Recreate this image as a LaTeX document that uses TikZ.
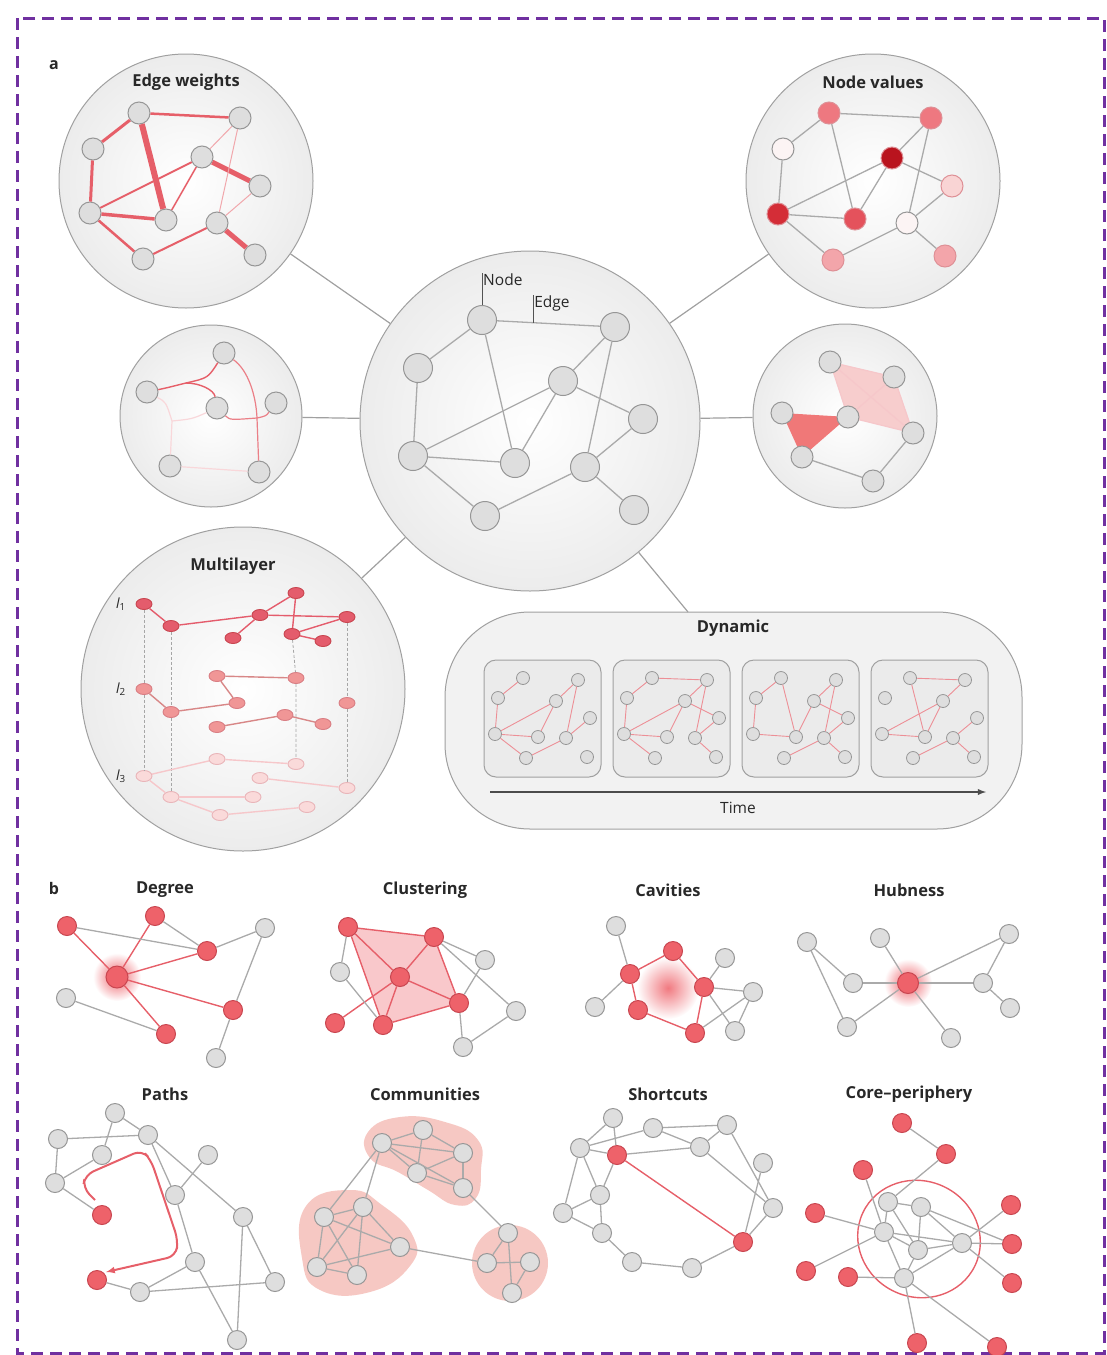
\documentclass[tikz,border=0pt]{standalone}
\usepackage{fontspec}
\setmainfont{Open Sans}
\usetikzlibrary{positioning,shapes.geometric}
\pgfdeclarelayer{discs}
\pgfdeclarelayer{fills}
\pgfsetlayers{discs,fills,main}
\definecolor{framepurple}{RGB}{112,48,160}
\definecolor{discfill}{RGB}{236,236,236}
\definecolor{discedge}{RGB}{160,160,160}
\definecolor{nodefill}{RGB}{222,222,222}
\definecolor{nodeedge}{RGB}{150,150,150}
\definecolor{greyline}{RGB}{170,170,170}
\definecolor{redfill}{RGB}{238,98,106}
\definecolor{rededge}{RGB}{200,70,80}
\definecolor{redline}{RGB}{230,95,105}
\definecolor{textgrey}{RGB}{40,40,40}
\definecolor{valA}{RGB}{252,244,244}
\definecolor{valB}{RGB}{249,212,212}
\definecolor{valC}{RGB}{243,165,170}
\definecolor{valD}{RGB}{238,120,128}
\definecolor{valE}{RGB}{228,82,92}
\definecolor{valF}{RGB}{212,45,55}
\definecolor{valG}{RGB}{185,20,30}
\definecolor{layerone}{RGB}{228,92,108}
\definecolor{layertwo}{RGB}{240,150,150}
\definecolor{layerthree}{RGB}{250,218,218}
\definecolor{blobpink}{RGB}{246,200,195}
\definecolor{simplexpink}{RGB}{247,205,205}
\definecolor{simplexred}{RGB}{240,120,120}
\tikzset{disc/.style={circle, draw=discedge, line width=1pt, inner color=white, outer color=discfill, inner sep=0pt}}
\tikzset{cnode/.style={circle, draw=nodeedge, fill=nodefill, line width=1pt, inner sep=0pt, minimum size=29}}
\tikzset{wnode/.style={cnode, minimum size=22}}
\tikzset{vnode/.style={circle, draw=rededge!60, line width=1pt, inner sep=0pt, minimum size=22}}
\tikzset{bnode/.style={cnode, minimum size=19}}
\tikzset{rnode/.style={bnode, draw=rededge, fill=redfill}}
\tikzset{tnode/.style={cnode, minimum size=13, line width=0.8pt}}
\tikzset{lone/.style={ellipse, draw=rededge, fill=layerone, line width=0.9pt, inner sep=0pt, minimum width=16, minimum height=11}}
\tikzset{ltwo/.style={lone, draw=rededge!70, fill=layertwo}}
\tikzset{lthree/.style={lone, draw=rededge!40, fill=layerthree}}
\tikzset{link/.style={line width=1.3pt, color=greyline}}
\tikzset{rlink/.style={line width=1.4pt, color=redline}}
\tikzset{tlink/.style={line width=0.9pt, color=redline!70}}
\tikzset{joinline/.style={line width=1.2pt, color=discedge}}
\tikzset{dropline/.style={dash pattern=on 3pt off 2pt, line width=0.8pt, color=black!35}}
\tikzset{leader/.style={line width=0.8pt, color=textgrey!80}}
\tikzset{glow/.style={circle, inner color=redfill, outer color=white, inner sep=0pt}}
\tikzset{title/.style={font=\bfseries\fontsize{16.5}{19}\selectfont, text=textgrey}}
\tikzset{plain/.style={font=\fontsize{15.5}{18}\selectfont, text=textgrey}}
\tikzset{panel/.style={font=\bfseries\fontsize{16}{19}\selectfont, text=textgrey}}
\begin{document}
\begin{tikzpicture}[x=1pt, y=-1pt]
    \useasboundingbox (0,0) rectangle (1106,1355);
    \draw[framepurple, line width=3pt, dash pattern=on 12pt off 7pt] (17,18) rectangle (1104,1353);

    % part a: discs
    \begin{pgfonlayer}{discs}
        \node[disc, minimum size=340] (ctrdisc) at (530,421) {};
        \node[disc, minimum size=254] (ewdisc) at (186,181) {};
        \node[disc, minimum size=254] (nvdisc) at (873,181) {};
        \node[disc, minimum size=182] (hydisc) at (211,416) {};
        \node[disc, minimum size=184] (sxdisc) at (845,416) {};
        \node[disc, minimum size=324] (mldisc) at (243,689) {};
        \node[draw=discedge, line width=1pt, fill=black!5, rounded corners=85pt, minimum width=577, minimum height=217] (dynbox) at (733.5,720.5) {};
        \coordinate (dynjoin) at (688,612);
        \draw [joinline] (ctrdisc) -- (ewdisc);
        \draw [joinline] (ctrdisc) -- (nvdisc);
        \draw [joinline] (ctrdisc) -- (hydisc);
        \draw [joinline] (ctrdisc) -- (sxdisc);
        \draw [joinline] (ctrdisc) -- (mldisc);
        \draw [joinline] (ctrdisc) -- (dynjoin);
    \end{pgfonlayer}

    \node[panel] (lbla) at (54,65) {a};
    \node[title] (ewtitle) at (186,82) {Edge weights};
    \node[title] (nvtitle) at (873,82) {Node values};
    \node[title] (mltitle) at (233,566) {Multilayer};
    \node[title] (dyntitle) at (733,628) {Dynamic};

    % central network
    \node[cnode] (c1) at (482,320) {};
    \node[cnode] (c2) at (615,327) {};
    \node[cnode] (c3) at (418,368) {};
    \node[cnode] (c4) at (563,381) {};
    \node[cnode] (c5) at (643,419) {};
    \node[cnode] (c6) at (413,456) {};
    \node[cnode] (c7) at (515,463) {};
    \node[cnode] (c8) at (585,467) {};
    \node[cnode] (c9) at (485,516) {};
    \node[cnode] (c10) at (634,510) {};
    \draw [link] (c1) -- (c2);
    \draw [link] (c1) -- (c3);
    \draw [link] (c1) -- (c7);
    \draw [link] (c3) -- (c6);
    \draw [link] (c6) -- (c7);
    \draw [link] (c6) -- (c4);
    \draw [link] (c6) -- (c9);
    \draw [link] (c4) -- (c7);
    \draw [link] (c4) -- (c2);
    \draw [link] (c4) -- (c5);
    \draw [link] (c2) -- (c8);
    \draw [link] (c5) -- (c8);
    \draw [link] (c8) -- (c9);
    \draw [link] (c8) -- (c10);
    \coordinate (nodetip) at (482,273);
    \draw [leader] (c1) -- (nodetip);
    \node[plain, anchor=north west, inner sep=1pt] (nodelbl) at (nodetip) {Node};
    \path (c1) -- (c2) coordinate[pos=0.35] (edgefoot);
    \draw [leader] (edgefoot) -- ++(0,-28) coordinate (edgetip);
    \node[plain, anchor=north west, inner sep=1pt] (edgelbl) at (edgetip) {Edge};

    % edge weights
    \node[wnode] (ew1) at (139,113) {};
    \node[wnode] (ew2) at (240,118) {};
    \node[wnode] (ew3) at (93,149) {};
    \node[wnode] (ew4) at (202,157) {};
    \node[wnode] (ew5) at (260,186) {};
    \node[wnode] (ew6) at (90,213) {};
    \node[wnode] (ew7) at (166,220) {};
    \node[wnode] (ew8) at (217,223) {};
    \node[wnode] (ew9) at (143,259) {};
    \node[wnode] (ew10) at (255,255) {};
    \draw [rlink, line width=2.5pt] (ew1) -- (ew2);
    \draw [rlink, line width=3pt] (ew1) -- (ew3);
    \draw [rlink, line width=6pt] (ew1) -- (ew7);
    \draw [rlink, line width=3pt] (ew3) -- (ew6);
    \draw [rlink, line width=3.5pt] (ew6) -- (ew7);
    \draw [rlink, line width=1.8pt] (ew6) -- (ew4);
    \draw [rlink, line width=2.5pt] (ew6) -- (ew9);
    \draw [rlink, line width=1.5pt] (ew4) -- (ew7);
    \draw [rlink, line width=1pt, color=redline!55] (ew4) -- (ew2);
    \draw [rlink, line width=5pt] (ew4) -- (ew5);
    \draw [rlink, line width=1pt, color=redline!55] (ew2) -- (ew8);
    \draw [rlink, line width=1pt, color=redline!55] (ew5) -- (ew8);
    \draw [rlink, line width=2pt] (ew8) -- (ew9);
    \draw [rlink, line width=5pt] (ew8) -- (ew10);

    % node values
    \node[vnode, fill=valD] (nv1) at (829,113) {};
    \node[vnode, fill=valD] (nv2) at (931,118) {};
    \node[vnode, fill=valA, draw=nodeedge] (nv3) at (783,149) {};
    \node[vnode, fill=valG] (nv4) at (892,158) {};
    \node[vnode, fill=valB] (nv5) at (952,186) {};
    \node[vnode, fill=valF] (nv6) at (778,214) {};
    \node[vnode, fill=valE] (nv7) at (855,219) {};
    \node[vnode, fill=valA, draw=nodeedge] (nv8) at (907,223) {};
    \node[vnode, fill=valC] (nv9) at (833,260) {};
    \node[vnode, fill=valC] (nv10) at (945,256) {};
    \draw [link] (nv1) -- (nv2);
    \draw [link] (nv1) -- (nv3);
    \draw [link] (nv1) -- (nv7);
    \draw [link] (nv3) -- (nv6);
    \draw [link] (nv6) -- (nv7);
    \draw [link] (nv6) -- (nv4);
    \draw [link] (nv6) -- (nv9);
    \draw [link] (nv4) -- (nv7);
    \draw [link] (nv4) -- (nv2);
    \draw [link] (nv4) -- (nv5);
    \draw [link] (nv2) -- (nv8);
    \draw [link] (nv5) -- (nv8);
    \draw [link] (nv8) -- (nv9);
    \draw [link] (nv8) -- (nv10);

    % hyperedges
    \node[wnode] (hy1) at (224,353) {};
    \node[wnode] (hy2) at (147,392) {};
    \node[wnode] (hy3) at (217,408) {};
    \node[wnode] (hy4) at (276,403) {};
    \node[wnode] (hy5) at (170,466) {};
    \node[wnode] (hy6) at (259,472) {};
    \coordinate (hyj1) at (186,383);
    \coordinate (hyj2) at (172,421);
    \coordinate (hyj3) at (257,418);
    \draw [redline!25, line width=1.2pt] (hy2) .. controls (166,402) .. (hyj2) -- (hy5);
    \draw [redline!25, line width=1.2pt] (hyj2) .. controls (192,419) .. (hy3);
    \draw [redline!25, line width=1.2pt] (hy5) -- (hy6);
    \draw [redline, line width=1.4pt] (hy2) .. controls (166,388) .. (hyj1);
    \draw [redline, line width=1.4pt] (hyj1) .. controls (208,378) .. (hy1);
    \draw [redline, line width=1.4pt] (hyj1) .. controls (200,383) and (214,390) .. (hy3);
    \draw [redline!80, line width=1.2pt] (hy3) .. controls (230,420) .. (hyj3) .. controls (266,416) .. (hy4);
    \draw [redline!80, line width=1.2pt] (hy1) .. controls (248,370) and (256,395) .. (hyj3) -- (hy6);

    % simplices
    \node[wnode] (sx1) at (830,362) {};
    \node[wnode] (sx2) at (894,377) {};
    \node[wnode] (sx3) at (782,413) {};
    \node[wnode] (sx4) at (848,417) {};
    \node[wnode] (sx5) at (913,433) {};
    \node[wnode] (sx6) at (802,457) {};
    \node[wnode] (sx7) at (873,481) {};
    \begin{pgfonlayer}{fills}
        \fill[simplexpink] (sx1.center) -- (sx2.center) -- (sx5.center) -- (sx4.center) -- cycle;
        \fill[simplexred] (sx3.center) -- (sx4.center) -- (sx6.center) -- cycle;
    \end{pgfonlayer}
    \draw [redline!35, line width=1.2pt] (sx1) -- (sx2);
    \draw [redline!35, line width=1.2pt] (sx2) -- (sx5);
    \draw [redline!35, line width=1.2pt] (sx5) -- (sx4);
    \draw [redline!35, line width=1.2pt] (sx4) -- (sx1);
    \draw [redline!35, line width=1.2pt] (sx1) -- (sx5);
    \draw [redline!35, line width=1.2pt] (sx2) -- (sx4);
    \draw [link] (sx6) -- (sx7);
    \draw [link] (sx7) -- (sx5);

    % multilayer
    \node[lone] (la1) at (144,604) {};
    \node[lone] (la2) at (171,626) {};
    \node[lone] (la3) at (260,615) {};
    \node[lone] (la4) at (296,593) {};
    \node[lone] (la5) at (347,617) {};
    \node[lone] (la6) at (233,638) {};
    \node[lone] (la7) at (292,634) {};
    \node[lone] (la8) at (323,641) {};
    \node[ltwo] (lb1) at (144,689) {};
    \node[ltwo] (lb2) at (217,676) {};
    \node[ltwo] (lb3) at (296,678) {};
    \node[ltwo] (lb4) at (237,703) {};
    \node[ltwo] (lb5) at (347,703) {};
    \node[ltwo] (lb6) at (171,712) {};
    \node[ltwo] (lb7) at (285,715) {};
    \node[ltwo] (lb8) at (217,727) {};
    \node[ltwo] (lb9) at (323,724) {};
    \node[lthree] (lc1) at (144,776) {};
    \node[lthree] (lc2) at (217,759) {};
    \node[lthree] (lc3) at (296,764) {};
    \node[lthree] (lc4) at (260,778) {};
    \node[lthree] (lc5) at (347,788) {};
    \node[lthree] (lc6) at (171,797) {};
    \node[lthree] (lc7) at (253,797) {};
    \node[lthree] (lc8) at (220,815) {};
    \node[lthree] (lc9) at (307,807) {};
    \draw [dropline] (la1) -- (lb1) -- (lc1);
    \draw [dropline] (la2) -- (lb6) -- (lc6);
    \draw [dropline] (la7) -- (lb3) -- (lc3);
    \draw [dropline] (la5) -- (lb5) -- (lc5);
    \draw [rlink, color=layerone] (la1) -- (la2);
    \draw [rlink, color=layerone] (la2) -- (la3);
    \draw [rlink, color=layerone] (la3) -- (la5);
    \draw [rlink, color=layerone] (la3) -- (la4);
    \draw [rlink, color=layerone] (la3) -- (la6);
    \draw [rlink, color=layerone] (la4) -- (la7);
    \draw [rlink, color=layerone] (la7) -- (la5);
    \draw [rlink, color=layerone] (la7) -- (la8);
    \draw [rlink, color=layertwo!90!black] (lb2) -- (lb3);
    \draw [rlink, color=layertwo!90!black] (lb2) -- (lb4);
    \draw [rlink, color=layertwo!90!black] (lb1) -- (lb6);
    \draw [rlink, color=layertwo!90!black] (lb6) -- (lb4);
    \draw [rlink, color=layertwo!90!black] (lb8) -- (lb7);
    \draw [rlink, color=layertwo!90!black] (lb7) -- (lb9);
    \draw [rlink, color=redline!35] (lc1) -- (lc2);
    \draw [rlink, color=redline!35] (lc2) -- (lc3);
    \draw [rlink, color=redline!35] (lc4) -- (lc5);
    \draw [rlink, color=redline!35] (lc1) -- (lc6);
    \draw [rlink, color=redline!35] (lc6) -- (lc7);
    \draw [rlink, color=redline!35] (lc6) -- (lc8);
    \draw [rlink, color=redline!35] (lc8) -- (lc9);
    \node[plain, font=\itshape\fontsize{14}{17}\selectfont] (lyr1) at (121,604) {l\textsubscript{\upshape 1}};
    \node[plain, font=\itshape\fontsize{14}{17}\selectfont] (lyr2) at (121,689) {l\textsubscript{\upshape 2}};
    \node[plain, font=\itshape\fontsize{14}{17}\selectfont] (lyr3) at (121,776) {l\textsubscript{\upshape 3}};

    % dynamic
    \node[draw=discedge, fill=black!8, line width=1pt, rounded corners=12pt, minimum size=117] (box1) at (542.5,718.5) {};
    \node[draw=discedge, fill=black!8, line width=1pt, rounded corners=12pt, minimum size=117] (box2) at (671.5,718.5) {};
    \node[draw=discedge, fill=black!8, line width=1pt, rounded corners=12pt, minimum size=117] (box3) at (800.5,718.5) {};
    \node[draw=discedge, fill=black!8, line width=1pt, rounded corners=12pt, minimum size=117] (box4) at (929.5,718.5) {};
    \begin{scope}[shift={(484,660)}]
        \node[tnode] (ta1) at (39,18) {};
        \node[tnode] (ta2) at (94,20) {};
        \node[tnode] (ta3) at (14,38) {};
        \node[tnode] (ta4) at (72,41) {};
        \node[tnode] (ta5) at (106,58) {};
        \node[tnode] (ta6) at (11,74) {};
        \node[tnode] (ta7) at (54,77) {};
        \node[tnode] (ta8) at (82,78) {};
        \node[tnode] (ta9) at (42,98) {};
        \node[tnode] (ta10) at (103,97) {};
    \end{scope}
    \draw [tlink] (ta1) -- (ta3);
    \draw [tlink] (ta3) -- (ta6);
    \draw [tlink] (ta6) -- (ta4);
    \draw [tlink] (ta6) -- (ta7);
    \draw [tlink] (ta6) -- (ta9);
    \draw [tlink] (ta7) -- (ta4);
    \draw [tlink] (ta4) -- (ta2);
    \draw [tlink] (ta2) -- (ta8);
    \draw [tlink] (ta5) -- (ta8);
    \draw [tlink] (ta8) -- (ta9);
    \begin{scope}[shift={(613,660)}]
        \node[tnode] (tb1) at (39,18) {};
        \node[tnode] (tb2) at (94,20) {};
        \node[tnode] (tb3) at (14,38) {};
        \node[tnode] (tb4) at (72,41) {};
        \node[tnode] (tb5) at (106,58) {};
        \node[tnode] (tb6) at (11,74) {};
        \node[tnode] (tb7) at (54,77) {};
        \node[tnode] (tb8) at (82,78) {};
        \node[tnode] (tb9) at (42,98) {};
        \node[tnode] (tb10) at (103,97) {};
    \end{scope}
    \draw [tlink] (tb1) -- (tb3);
    \draw [tlink] (tb1) -- (tb2);
    \draw [tlink] (tb3) -- (tb6);
    \draw [tlink] (tb6) -- (tb4);
    \draw [tlink] (tb6) -- (tb7);
    \draw [tlink] (tb6) -- (tb9);
    \draw [tlink] (tb7) -- (tb4);
    \draw [tlink] (tb4) -- (tb2);
    \draw [tlink] (tb2) -- (tb8);
    \draw [tlink] (tb4) -- (tb5);
    \draw [tlink] (tb5) -- (tb8);
    \draw [tlink] (tb8) -- (tb10);
    \begin{scope}[shift={(742,660)}]
        \node[tnode] (tc1) at (39,18) {};
        \node[tnode] (tc2) at (94,20) {};
        \node[tnode] (tc3) at (14,38) {};
        \node[tnode] (tc4) at (72,41) {};
        \node[tnode] (tc5) at (106,58) {};
        \node[tnode] (tc6) at (11,74) {};
        \node[tnode] (tc7) at (54,77) {};
        \node[tnode] (tc8) at (82,78) {};
        \node[tnode] (tc9) at (42,98) {};
        \node[tnode] (tc10) at (103,97) {};
    \end{scope}
    \draw [tlink] (tc1) -- (tc3);
    \draw [tlink] (tc3) -- (tc6);
    \draw [tlink] (tc1) -- (tc7);
    \draw [tlink] (tc6) -- (tc7);
    \draw [tlink] (tc7) -- (tc4);
    \draw [tlink] (tc4) -- (tc2);
    \draw [tlink] (tc2) -- (tc8);
    \draw [tlink] (tc4) -- (tc5);
    \draw [tlink] (tc5) -- (tc8);
    \draw [tlink] (tc8) -- (tc9);
    \draw [tlink] (tc8) -- (tc10);
    \begin{scope}[shift={(871,660)}]
        \node[tnode] (td1) at (39,18) {};
        \node[tnode] (td2) at (94,20) {};
        \node[tnode] (td3) at (14,38) {};
        \node[tnode] (td4) at (72,41) {};
        \node[tnode] (td5) at (106,58) {};
        \node[tnode] (td6) at (11,74) {};
        \node[tnode] (td7) at (54,77) {};
        \node[tnode] (td8) at (82,78) {};
        \node[tnode] (td9) at (42,98) {};
        \node[tnode] (td10) at (103,97) {};
    \end{scope}
    \draw [tlink] (td1) -- (td2);
    \draw [tlink] (td1) -- (td7);
    \draw [tlink] (td6) -- (td7);
    \draw [tlink] (td6) -- (td4);
    \draw [tlink] (td7) -- (td4);
    \draw [tlink] (td4) -- (td2);
    \draw [tlink] (td5) -- (td8);
    \draw [tlink] (td8) -- (td9);
    \draw [tlink] (td8) -- (td10);
    \coordinate (tstart) at (490,792);
    \coordinate (tend) at (986,792);
    \draw [line width=1.8pt, color=black!70, -latex] (tstart) -- (tend);
    \node[plain] (timelbl) at (738,808) {Time};

    % part b
    \node[panel] (lblb) at (54,888) {b};
    \node[title] (dgtitle) at (165,890) {Degree};
    \node[title] (cltitle) at (425,890) {Clustering};
    \node[title] (cvtitle) at (668,890) {Cavities};
    \node[title] (hbtitle) at (909,890) {Hubness};
    \node[title] (patitle) at (165,1094) {Paths};
    \node[title] (cmtitle) at (425,1094) {Communities};
    \node[title] (sctitle) at (668,1094) {Shortcuts};
    \node[title] (cptitle) at (909,1094) {Core--periphery};

    % degree
    \node[rnode] (dg1) at (67,926) {};
    \node[rnode] (dg2) at (155,916) {};
    \node[bnode] (dg3) at (265,928) {};
    \node[rnode] (dg4) at (207,951) {};
    \node[rnode, minimum size=22] (dg5) at (117,977) {};
    \node[bnode] (dg6) at (66,998) {};
    \node[rnode] (dg7) at (233,1010) {};
    \node[rnode] (dg8) at (166,1034) {};
    \node[bnode] (dg9) at (216,1058) {};
    \begin{pgfonlayer}{fills}
        \node[glow, minimum size=48] (dgglow) at (dg5) {};
    \end{pgfonlayer}
    \draw [rlink] (dg5) -- (dg1);
    \draw [rlink] (dg5) -- (dg2);
    \draw [rlink] (dg5) -- (dg4);
    \draw [rlink] (dg5) -- (dg7);
    \draw [rlink] (dg5) -- (dg8);
    \draw [link] (dg1) -- (dg4);
    \draw [link] (dg2) -- (dg4);
    \draw [link] (dg4) -- (dg3);
    \draw [link] (dg3) -- (dg7);
    \draw [link] (dg7) -- (dg9);
    \draw [link] (dg6) -- (dg8);

    % clustering
    \node[rnode] (cl1) at (348,927) {};
    \node[rnode] (cl2) at (434,937) {};
    \node[bnode] (cl3) at (485,960) {};
    \node[bnode] (cl4) at (340,972) {};
    \node[rnode] (cl5) at (400,977) {};
    \node[rnode] (cl6) at (459,1003) {};
    \node[bnode] (cl7) at (516,1011) {};
    \node[rnode] (cl8) at (335,1023) {};
    \node[rnode] (cl9) at (383,1025) {};
    \node[bnode] (cl10) at (463,1047) {};
    \begin{pgfonlayer}{fills}
        \fill[redfill!35] (cl1.center) -- (cl2.center) -- (cl6.center) -- (cl9.center) -- cycle;
    \end{pgfonlayer}
    \draw [rlink] (cl1) -- (cl2);
    \draw [rlink] (cl2) -- (cl6);
    \draw [rlink] (cl6) -- (cl9);
    \draw [rlink] (cl9) -- (cl1);
    \draw [rlink] (cl5) -- (cl1);
    \draw [rlink] (cl5) -- (cl2);
    \draw [rlink] (cl5) -- (cl6);
    \draw [rlink] (cl5) -- (cl9);
    \draw [rlink] (cl5) -- (cl8);
    \draw [link] (cl1) -- (cl4);
    \draw [link] (cl4) -- (cl9);
    \draw [link] (cl2) -- (cl3);
    \draw [link] (cl2) -- (cl7);
    \draw [link] (cl3) -- (cl6);
    \draw [link] (cl6) -- (cl10);
    \draw [link] (cl10) -- (cl7);

    % cavities
    \node[bnode] (cv1) at (616,926) {};
    \node[rnode] (cv2) at (673,951) {};
    \node[bnode] (cv3) at (725,958) {};
    \node[rnode] (cv4) at (630,974) {};
    \node[rnode] (cv5) at (704,987) {};
    \node[bnode] (cv6) at (753,992) {};
    \node[bnode] (cv7) at (595,1007) {};
    \node[rnode] (cv8) at (638,1010) {};
    \node[bnode] (cv9) at (735,1031) {};
    \node[rnode] (cv10) at (695,1033) {};
    \begin{pgfonlayer}{fills}
        \node[glow, inner color=redfill!85, minimum size=62] (cvglow) at (668,988) {};
    \end{pgfonlayer}
    \draw [rlink] (cv4) -- (cv2);
    \draw [rlink] (cv2) -- (cv5);
    \draw [rlink] (cv5) -- (cv10);
    \draw [rlink] (cv10) -- (cv8);
    \draw [rlink] (cv8) -- (cv4);
    \draw [link] (cv1) -- (cv4);
    \draw [link] (cv7) -- (cv4);
    \draw [link] (cv3) -- (cv5);
    \draw [link] (cv5) -- (cv6);
    \draw [link] (cv5) -- (cv9);
    \draw [link] (cv10) -- (cv6);
    \draw [link] (cv9) -- (cv6);

    % hubness
    \node[bnode] (hb1) at (807,942) {};
    \node[bnode] (hb2) at (880,938) {};
    \node[bnode] (hb3) at (1009,934) {};
    \node[bnode] (hb4) at (853,983) {};
    \node[rnode, minimum size=21] (hb5) at (908,983) {};
    \node[bnode] (hb6) at (983,983) {};
    \node[bnode] (hb7) at (1010,1008) {};
    \node[bnode] (hb8) at (847,1027) {};
    \node[bnode] (hb9) at (951,1038) {};
    \begin{pgfonlayer}{fills}
        \node[glow, minimum size=48] (hbglow) at (hb5) {};
    \end{pgfonlayer}
    \draw [link] (hb1) -- (hb4);
    \draw [link] (hb1) -- (hb8);
    \draw [link] (hb4) -- (hb5);
    \draw [link] (hb2) -- (hb5);
    \draw [link] (hb5) -- (hb3);
    \draw [link] (hb5) -- (hb6);
    \draw [link] (hb5) -- (hb8);
    \draw [link] (hb5) -- (hb9);
    \draw [link] (hb6) -- (hb3);
    \draw [link] (hb6) -- (hb7);

    % paths
    \node[bnode] (pa1) at (115,1113) {};
    \node[bnode] (pa2) at (58,1139) {};
    \node[bnode] (pa3) at (148,1135) {};
    \node[bnode] (pa4) at (102,1155) {};
    \node[bnode] (pa5) at (208,1155) {};
    \node[bnode] (pa6) at (55,1183) {};
    \node[bnode] (pa7) at (175,1195) {};
    \node[rnode] (pa8) at (102,1215) {};
    \node[bnode] (pa9) at (243,1217) {};
    \node[bnode] (pa10) at (195,1262) {};
    \node[rnode] (pa11) at (97,1280) {};
    \node[bnode] (pa12) at (140,1292) {};
    \node[bnode] (pa13) at (275,1282) {};
    \node[bnode] (pa14) at (237,1340) {};
    \draw [link] (pa2) -- (pa3);
    \draw [link] (pa2) -- (pa6);
    \draw [link] (pa1) -- (pa4);
    \draw [link] (pa1) -- (pa3);
    \draw [link] (pa4) -- (pa6);
    \draw [link] (pa6) -- (pa8);
    \draw [link] (pa3) -- (pa7);
    \draw [link] (pa3) -- (pa9);
    \draw [link] (pa5) -- (pa7);
    \draw [link] (pa7) -- (pa10);
    \draw [link] (pa10) -- (pa12);
    \draw [link] (pa10) -- (pa14);
    \draw [link] (pa12) -- (pa13);
    \draw [link] (pa9) -- (pa13);
    \draw [link] (pa9) -- (pa14);
    \draw [link] (pa11) -- (pa12);
    \coordinate (pastart) at (95,1200);
    \coordinate (paend) at (106,1272);
    \draw [rlink, line width=2pt, rounded corners=9pt, -latex] (pastart) -- (83,1188) -- (85,1175) -- (142,1150) -- (151,1160) -- (178,1240) -- (176,1256) -- (paend);

    % communities
    \node[bnode] (cm1) at (382,1143) {};
    \node[bnode] (cm2) at (423,1130) {};
    \node[bnode] (cm3) at (463,1153) {};
    \node[bnode] (cm4) at (417,1173) {};
    \node[bnode] (cm5) at (463,1188) {};
    \node[bnode] (cm6) at (363,1207) {};
    \node[bnode] (cm7) at (324,1217) {};
    \node[bnode] (cm8) at (400,1247) {};
    \node[bnode] (cm9) at (317,1267) {};
    \node[bnode] (cm10) at (357,1275) {};
    \node[bnode] (cm11) at (508,1233) {};
    \node[bnode] (cm12) at (487,1263) {};
    \node[bnode] (cm13) at (530,1262) {};
    \node[bnode] (cm14) at (512,1293) {};
    \begin{pgfonlayer}{fills}
        \fill[blobpink] plot[smooth cycle, tension=0.8] coordinates {(368,1132) (400,1117) (445,1122) (478,1140) (481,1170) (476,1198) (455,1205) (428,1190) (398,1172) (370,1158)};
        \fill[blobpink] plot[smooth cycle, tension=0.8] coordinates {(306,1206) (350,1190) (382,1205) (413,1236) (410,1266) (370,1292) (320,1290) (302,1258)};
        \fill[blobpink] (510,1263) circle (38pt);
    \end{pgfonlayer}
    \draw [link] (cm1) -- (cm2);
    \draw [link] (cm1) -- (cm3);
    \draw [link] (cm1) -- (cm4);
    \draw [link] (cm1) -- (cm5);
    \draw [link] (cm2) -- (cm3);
    \draw [link] (cm2) -- (cm4);
    \draw [link] (cm4) -- (cm3);
    \draw [link] (cm4) -- (cm5);
    \draw [link] (cm3) -- (cm5);
    \draw [link] (cm6) -- (cm7);
    \draw [link] (cm6) -- (cm8);
    \draw [link] (cm6) -- (cm9);
    \draw [link] (cm6) -- (cm10);
    \draw [link] (cm7) -- (cm8);
    \draw [link] (cm7) -- (cm9);
    \draw [link] (cm7) -- (cm10);
    \draw [link] (cm8) -- (cm9);
    \draw [link] (cm9) -- (cm10);
    \draw [link] (cm11) -- (cm12);
    \draw [link] (cm11) -- (cm14);
    \draw [link] (cm12) -- (cm13);
    \draw [link] (cm13) -- (cm14);
    \draw [link] (cm1) -- (cm7);
    \draw [link] (cm1) -- (cm6);
    \draw [link] (cm5) -- (cm11);
    \draw [link] (cm8) -- (cm12);

    % shortcuts
    \node[bnode] (sc1) at (613,1118) {};
    \node[bnode] (sc2) at (653,1128) {};
    \node[bnode] (sc3) at (727,1125) {};
    \node[bnode] (sc4) at (580,1148) {};
    \node[rnode] (sc5) at (617,1155) {};
    \node[bnode] (sc6) at (700,1147) {};
    \node[bnode] (sc7) at (763,1163) {};
    \node[bnode] (sc8) at (600,1195) {};
    \node[bnode] (sc9) at (563,1213) {};
    \node[bnode] (sc10) at (773,1208) {};
    \node[bnode] (sc11) at (602,1233) {};
    \node[rnode] (sc12) at (743,1242) {};
    \node[bnode] (sc13) at (632,1262) {};
    \node[bnode] (sc14) at (692,1268) {};
    \draw [link] (sc1) -- (sc4);
    \draw [link] (sc1) -- (sc5);
    \draw [link] (sc4) -- (sc2);
    \draw [link] (sc2) -- (sc3);
    \draw [link] (sc2) -- (sc6);
    \draw [link] (sc3) -- (sc6);
    \draw [link] (sc3) -- (sc10);
    \draw [link] (sc5) -- (sc6);
    \draw [link] (sc4) -- (sc5);
    \draw [link] (sc4) -- (sc9);
    \draw [link] (sc4) -- (sc8);
    \draw [link] (sc5) -- (sc8);
    \draw [link] (sc8) -- (sc9);
    \draw [link] (sc8) -- (sc11);
    \draw [link] (sc9) -- (sc11);
    \draw [link] (sc11) -- (sc13);
    \draw [link] (sc13) -- (sc14);
    \draw [link] (sc14) -- (sc12);
    \draw [link] (sc12) -- (sc10);
    \draw [link] (sc12) -- (sc7);
    \draw [link] (sc6) -- (sc10);
    \draw [rlink] (sc5) -- (sc12);

    % core-periphery
    \node[rnode] (cp1) at (902,1123) {};
    \node[rnode] (cp2) at (946,1154) {};
    \node[rnode] (cp3) at (863,1170) {};
    \node[bnode] (cp4) at (888,1202) {};
    \node[bnode] (cp5) at (921,1207) {};
    \node[rnode] (cp6) at (815,1213) {};
    \node[rnode] (cp7) at (1011,1205) {};
    \node[bnode] (cp8) at (884,1232) {};
    \node[bnode] (cp9) at (962,1243) {};
    \node[rnode] (cp10) at (1012,1244) {};
    \node[bnode] (cp11) at (918,1250) {};
    \node[rnode] (cp12) at (806,1271) {};
    \node[rnode] (cp13) at (848,1277) {};
    \node[bnode] (cp14) at (904,1278) {};
    \node[rnode] (cp15) at (1012,1283) {};
    \node[rnode] (cp16) at (917,1343) {};
    \node[rnode] (cp17) at (997,1347) {};
    \begin{pgfonlayer}{fills}
        \draw[redline, line width=1.4pt, rotate around={-25:(919,1239)}] (919,1239) ellipse [x radius=62pt, y radius=58pt];
    \end{pgfonlayer}
    \draw [link] (cp1) -- (cp2);
    \draw [link] (cp2) -- (cp4);
    \draw [link] (cp3) -- (cp8);
    \draw [link] (cp4) -- (cp5);
    \draw [link] (cp4) -- (cp8);
    \draw [link] (cp4) -- (cp11);
    \draw [link] (cp5) -- (cp11);
    \draw [link] (cp5) -- (cp9);
    \draw [link] (cp5) -- (cp10);
    \draw [link] (cp6) -- (cp8);
    \draw [link] (cp8) -- (cp9);
    \draw [link] (cp8) -- (cp11);
    \draw [link] (cp8) -- (cp14);
    \draw [link] (cp9) -- (cp11);
    \draw [link] (cp9) -- (cp14);
    \draw [link] (cp9) -- (cp7);
    \draw [link] (cp9) -- (cp10);
    \draw [link] (cp9) -- (cp15);
    \draw [link] (cp12) -- (cp8);
    \draw [link] (cp13) -- (cp14);
    \draw [link] (cp11) -- (cp14);
    \draw [link] (cp14) -- (cp16);
    \draw [link] (cp14) -- (cp17);
\end{tikzpicture}
\end{document}
